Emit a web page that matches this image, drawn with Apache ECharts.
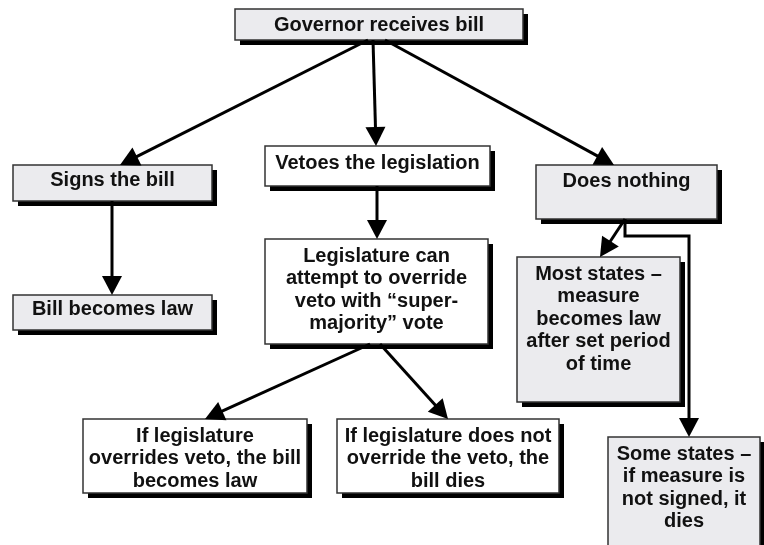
<!DOCTYPE html>
<html><head><meta charset="utf-8">
<script src="https://cdn.jsdelivr.net/npm/echarts@6/dist/echarts.min.js"></script>
<style>html,body{margin:0;padding:0;background:#fff}#c{width:764px;height:545px}</style>
</head><body><div id="c"></div>
<script>
// ---- content ----
const nodeLabels = [
  'Governor receives bill',
  'Signs the bill',
  'Vetoes the legislation',
  'Does nothing',
  'Bill becomes law',
  'Legislature can\nattempt to override\nveto with \u201csuper-\nmajority\u201d vote',
  'Most states \u2013\nmeasure\nbecomes law\nafter set period\nof time',
  'If legislature\noverrides veto, the bill\nbecomes law',
  'If legislature does not\noverride the veto, the\nbill dies',
  'Some states \u2013\nif measure is\nnot signed, it\ndies'
];
const edgeFrom = [0, 0, 0, 1, 2, 5, 5, 3, 3];
const edgeTo   = [1, 2, 3, 4, 5, 7, 8, 6, 9];

// ---- layout (axis units: x 0..764, y 0..545 top-down) ----
const boxRect = [
  [235, 9, 523, 40], [13, 165, 212, 201], [265, 146, 490, 186], [536, 165, 717, 219],
  [13, 295, 212, 330], [265, 239, 488, 344], [517, 257, 680, 402], [83, 419, 307, 493],
  [337, 419, 559, 493], [608, 437, 760, 565]
];
const textFirstLine = [25, 180, 163, 181, 309, 256, 274, 436, 436, 454];
const edgeStartX = [368, 373, 385, 112, 377, 370, 380, 625, 625];
const edgeEndX   = [120, 376, 614, 112, 377, 205, 448, 600, 689];
const edgeBends  = [[], [], [], [], [], [], [], [], [[625, 236], [689, 236]]];

// ---- styles ----
const shadedFill = '#ebebee';
const plainFill = '#ffffff';
const nodeShaded = [true, true, false, true, true, false, true, false, false, true];
const FONT = 'bold 20px "Liberation Sans", Arial, sans-serif';
const LH = 22.6;

const chart = echarts.init(document.getElementById('c'), null, {renderer: 'canvas'});

function renderBox(params, api) {
  const i = api.value(0);
  const r = boxRect[i];
  const p0 = api.coord([r[0], r[1]]);
  const p1 = api.coord([r[2], r[3]]);
  const w = p1[0] - p0[0], h = p1[1] - p0[1];
  const ty = api.coord([0, textFirstLine[i]])[1];
  return {
    type: 'group',
    children: [
      {type: 'rect', shape: {x: p0[0] + 5, y: p0[1] + 5, width: w, height: h}, style: {fill: '#000'}},
      {type: 'rect', shape: {x: p0[0], y: p0[1], width: w, height: h},
       style: {fill: nodeShaded[i] ? shadedFill : plainFill, stroke: '#333', lineWidth: 1.5}},
      {type: 'text', style: {
        text: nodeLabels[i], x: (p0[0] + p1[0]) / 2, y: ty - LH / 2,
        textAlign: 'center', textVerticalAlign: 'top', font: FONT, fill: '#111', lineHeight: LH
      }}
    ]
  };
}

function renderEdge(params, api) {
  const k = api.value(0);
  const s = boxRect[edgeFrom[k]], t = boxRect[edgeTo[k]];
  const pts = [[edgeStartX[k], s[3]]].concat(edgeBends[k]).concat([[edgeEndX[k], t[1]]]).map(p => api.coord(p));
  const a = pts[pts.length - 2], b = pts[pts.length - 1];
  const dx = b[0] - a[0], dy = b[1] - a[1];
  const len = Math.sqrt(dx * dx + dy * dy);
  const ux = dx / len, uy = dy / len;
  const L = 19, W = 10;
  const bx = b[0] - ux * L, by = b[1] - uy * L;
  const linePts = pts.slice(0, -1).concat([[bx + ux * 2, by + uy * 2]]);
  return {
    type: 'group',
    children: [
      {type: 'polyline', shape: {points: linePts}, style: {stroke: '#000', lineWidth: 3, fill: null, lineJoin: 'miter'}},
      {type: 'polygon', shape: {points: [[b[0], b[1]], [bx - uy * W, by + ux * W], [bx + uy * W, by - ux * W]]},
       style: {fill: '#000'}}
    ]
  };
}

chart.setOption({
  animation: false,
  grid: {left: 0, right: 0, top: 0, bottom: 0},
  xAxis: {type: 'value', min: 0, max: 764, show: false},
  yAxis: {type: 'value', min: 0, max: 545, inverse: true, show: false},
  series: [
    {type: 'custom', clip: false, data: nodeLabels.map((_, i) => [i]), renderItem: renderBox, z: 2},
    {type: 'custom', clip: false, data: edgeFrom.map((_, i) => [i]), renderItem: renderEdge, z: 3}
  ]
});
</script>
</body></html>
